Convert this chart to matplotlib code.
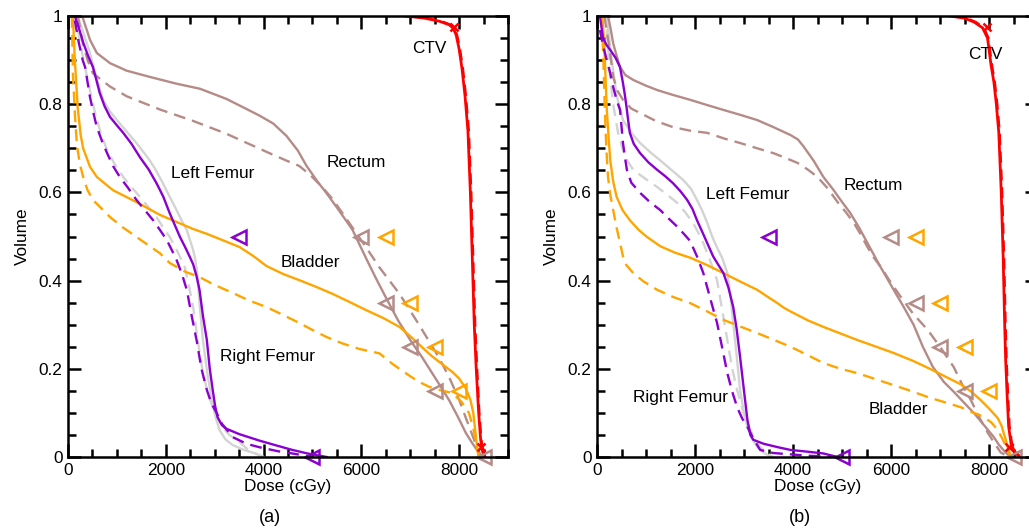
import matplotlib
matplotlib.use("Agg")
import matplotlib.pyplot as plt
from matplotlib.ticker import MultipleLocator, FuncFormatter

plt.rcParams['font.family'] = ['Liberation Sans', 'DejaVu Sans']
plt.rcParams['font.size'] = 12.4

C_CTV = '#FF0000'
C_REC = '#B58B87'
C_BLA = '#FFA500'
C_LF = '#D3D3D3'
C_RF = '#8A00D0'

# ---------------- panel (a) ----------------
a_ctv_d = [6900, 7300, 7600, 7800, 7880, 7940, 8000, 8060, 8120, 8180, 8230, 8270, 8310, 8350, 8400, 8440, 8480, 8530]
a_ctv_v = [1.0, 0.995, 0.988, 0.98, 0.972, 0.957, 0.925, 0.88, 0.82, 0.74, 0.60, 0.45, 0.30, 0.20, 0.10, 0.04, 0.012, 0.0]
a_ctvd_d = [6950, 7350, 7650, 7830, 7900, 7960, 8020, 8080, 8140, 8200, 8250, 8290, 8330, 8370, 8415, 8455, 8495, 8545]
a_ctvd_v = [1.0, 0.995, 0.988, 0.98, 0.972, 0.957, 0.925, 0.88, 0.82, 0.74, 0.60, 0.45, 0.30, 0.20, 0.10, 0.04, 0.012, 0.0]

a_rec_d = [290, 450, 590, 860, 1200, 1670, 2200, 2700, 3240, 3600, 3920, 4200, 4470, 4700, 4880, 5100, 5290, 5550,
           5820, 6100, 6300, 6510, 6750, 7020, 7250, 7450, 7650, 7800, 7980, 8140, 8260, 8340, 8420, 8500]
a_rec_v = [1.0, 0.946, 0.916, 0.893, 0.876, 0.862, 0.847, 0.835, 0.812, 0.792, 0.774, 0.756, 0.728, 0.695, 0.66, 0.625,
           0.598, 0.558, 0.515, 0.45, 0.405, 0.36, 0.31, 0.262, 0.225, 0.19, 0.155, 0.128, 0.09, 0.054, 0.033, 0.02, 0.008, 0.0]
a_recd_d = [200, 300, 400, 510, 860, 1200, 1880, 2560, 3240, 3700, 4100, 4470, 4730, 4950, 5200, 5410, 5620, 5820,
            6100, 6370, 6780, 7180, 7590, 7800, 8000, 8150, 8270, 8370, 8450]
a_recd_v = [1.0, 0.94, 0.90, 0.87, 0.84, 0.818, 0.788, 0.762, 0.733, 0.71, 0.69, 0.672, 0.66, 0.64, 0.612, 0.585, 0.552,
            0.52, 0.475, 0.43, 0.37, 0.30, 0.225, 0.18, 0.13, 0.085, 0.05, 0.02, 0.0]

a_bla_d = [100, 140, 200, 260, 310, 450, 590, 920, 1400, 1880, 2220, 2560, 2840, 3200, 3510, 3800, 4060, 4400, 4730,
           5050, 5410, 5750, 6100, 6450, 6780, 7040, 7250, 7450, 7660, 7860, 8000, 8140, 8230, 8290, 8330, 8360, 8400]
a_bla_v = [1.0, 0.90, 0.79, 0.73, 0.70, 0.658, 0.635, 0.605, 0.578, 0.549, 0.533, 0.517, 0.506, 0.49, 0.476, 0.455,
           0.433, 0.415, 0.401, 0.387, 0.37, 0.352, 0.333, 0.315, 0.295, 0.27, 0.248, 0.228, 0.21, 0.193, 0.178, 0.155,
           0.13, 0.10, 0.06, 0.03, 0.0]
a_blad_d = [80, 100, 140, 180, 240, 310, 400, 510, 860, 1130, 1400, 1880, 2080, 2400, 2690, 3000, 3370, 3700, 4060,
            4400, 4730, 5000, 5290, 5600, 5960, 6370, 6650, 6910, 7150, 7390, 7600, 7860, 8050, 8200, 8280, 8340, 8400]
a_blad_v = [1.0, 0.87, 0.78, 0.71, 0.665, 0.635, 0.605, 0.583, 0.544, 0.52, 0.499, 0.462, 0.44, 0.42, 0.408, 0.39,
            0.372, 0.355, 0.34, 0.322, 0.304, 0.288, 0.272, 0.258, 0.245, 0.235, 0.21, 0.19, 0.172, 0.159, 0.152,
            0.145, 0.125, 0.10, 0.07, 0.039, 0.0]

a_rf_d = [140, 230, 310, 410, 510, 580, 650, 750, 860, 1000, 1130, 1300, 1470, 1650, 1810, 1950, 2080, 2200, 2290,
          2400, 2490, 2560, 2630, 2690, 2760, 2840, 2900, 2960, 3010, 3060, 3150, 3240, 3500, 3920, 4300, 4590, 4900, 5290]
a_rf_v = [1.0, 0.97, 0.94, 0.91, 0.884, 0.855, 0.825, 0.795, 0.771, 0.752, 0.735, 0.71, 0.68, 0.652, 0.621, 0.59,
          0.553, 0.522, 0.499, 0.475, 0.454, 0.437, 0.41, 0.379, 0.32, 0.265, 0.20, 0.152, 0.115, 0.09, 0.072, 0.064,
          0.052, 0.037, 0.025, 0.016, 0.008, 0.0]
a_rfd_d = [140, 220, 300, 350, 450, 520, 590, 700, 800, 920, 1060, 1230, 1400, 1570, 1740, 1880, 2020, 2120, 2220,
           2330, 2430, 2530, 2630, 2730, 2840, 2940, 3040, 3150, 3370, 3650, 3920, 4300, 4590, 5000]
a_rfd_v = [0.99, 0.94, 0.90, 0.884, 0.816, 0.78, 0.748, 0.715, 0.689, 0.66, 0.635, 0.61, 0.583, 0.56, 0.537, 0.515,
           0.492, 0.47, 0.447, 0.415, 0.379, 0.32, 0.265, 0.20, 0.152, 0.12, 0.10, 0.075, 0.045, 0.03, 0.022, 0.013,
           0.008, 0.0]

a_lf_d = [200, 320, 450, 580, 720, 850, 1000, 1200, 1400, 1670, 1800, 1940, 2080, 2220, 2330, 2430, 2500, 2560, 2600,
          2640, 2690, 2760, 2850, 2940, 3020, 3100, 3220, 3370, 3600, 3780, 4000]
a_lf_v = [1.0, 0.96, 0.916, 0.86, 0.81, 0.785, 0.764, 0.738, 0.712, 0.673, 0.65, 0.621, 0.59, 0.56, 0.535, 0.515,
          0.49, 0.469, 0.45, 0.42, 0.35, 0.265, 0.19, 0.129, 0.09, 0.061, 0.04, 0.027, 0.016, 0.01, 0.0]
a_lfd_d = [200, 300, 390, 490, 590, 700, 800, 950, 1130, 1300, 1470, 1640, 1810, 1950, 2080, 2190, 2290, 2390, 2470,
           2560, 2660, 2760, 2860, 2960, 3060, 3160, 3300, 3450, 3700, 4000]
a_lfd_v = [0.97, 0.91, 0.862, 0.81, 0.764, 0.725, 0.696, 0.665, 0.635, 0.612, 0.59, 0.567, 0.544, 0.52, 0.499, 0.477,
           0.454, 0.43, 0.39, 0.34, 0.26, 0.19, 0.145, 0.113, 0.088, 0.068, 0.05, 0.039, 0.015, 0.0]

# ---------------- panel (b) ----------------
b_ctv_d = [7200, 7500, 7700, 7870, 7970, 8040, 8100, 8150, 8200, 8250, 8290, 8320, 8340, 8370, 8400, 8450, 8510, 8610]
b_ctv_v = [1.0, 0.995, 0.986, 0.973, 0.95, 0.89, 0.85, 0.80, 0.735, 0.60, 0.45, 0.30, 0.22, 0.14, 0.07, 0.03, 0.015, 0.0]
b_ctvd_d = [7250, 7550, 7740, 7900, 7990, 8060, 8120, 8170, 8220, 8270, 8310, 8340, 8360, 8390, 8420, 8470, 8540, 8640]
b_ctvd_v = [1.0, 0.995, 0.986, 0.973, 0.95, 0.89, 0.85, 0.80, 0.735, 0.60, 0.45, 0.30, 0.22, 0.14, 0.07, 0.03, 0.015, 0.0]

b_rec_d = [225, 280, 330, 400, 470, 580, 740, 1000, 1230, 1550, 1900, 2250, 2580, 2920, 3270, 3600, 3950, 4100, 4210,
           4420, 4620, 4830, 4970, 5170, 5350, 5520, 5750, 6050, 6250, 6460, 6650, 6850, 7080, 7280, 7500, 7690, 7900,
           8100, 8200, 8300, 8380, 8450]
b_rec_v = [1.0, 0.97, 0.938, 0.91, 0.884, 0.866, 0.855, 0.842, 0.832, 0.821, 0.81, 0.798, 0.787, 0.776, 0.764, 0.748,
           0.73, 0.72, 0.705, 0.672, 0.635, 0.605, 0.583, 0.553, 0.52, 0.485, 0.438, 0.38, 0.342, 0.30, 0.25, 0.205,
           0.17, 0.148, 0.122, 0.10, 0.072, 0.045, 0.028, 0.015, 0.006, 0.0]
b_recd_d = [150, 250, 330, 420, 530, 700, 880, 1200, 1550, 1900, 2250, 2600, 2920, 3270, 3600, 3850, 4090, 4300, 4500,
            4700, 4910, 5080, 5240, 5380, 5520, 5650, 5790, 6000, 6200, 6450, 6750, 7000, 7280, 7450, 7630, 7800, 7980,
            8120, 8240, 8420]
b_recd_v = [1.0, 0.93, 0.862, 0.83, 0.81, 0.79, 0.78, 0.762, 0.748, 0.74, 0.735, 0.722, 0.712, 0.70, 0.689, 0.678,
            0.667, 0.652, 0.635, 0.61, 0.578, 0.555, 0.531, 0.505, 0.476, 0.452, 0.431, 0.395, 0.363, 0.325, 0.288,
            0.25, 0.204, 0.165, 0.129, 0.09, 0.054, 0.03, 0.01, 0.0]

b_bla_d = [110, 150, 200, 240, 270, 330, 400, 520, 670, 850, 1020, 1290, 1600, 1900, 2250, 2580, 2920, 3270, 3500,
           3680, 3820, 3950, 4300, 4620, 4970, 5320, 5700, 6050, 6450, 6850, 7150, 7420, 7640, 7830, 8000, 8180, 8260,
           8300, 8340, 8380, 8420, 8450]
b_bla_v = [1.0, 0.93, 0.787, 0.72, 0.673, 0.625, 0.59, 0.56, 0.537, 0.515, 0.499, 0.478, 0.463, 0.452, 0.435, 0.417,
           0.398, 0.379, 0.362, 0.349, 0.338, 0.33, 0.31, 0.295, 0.28, 0.265, 0.25, 0.236, 0.218, 0.197, 0.18, 0.165,
           0.148, 0.129, 0.11, 0.088, 0.07, 0.054, 0.04, 0.023, 0.01, 0.0]
b_blad_d = [100, 130, 160, 190, 225, 270, 330, 400, 470, 530, 600, 740, 950, 1230, 1550, 1900, 2250, 2580, 2920,
            3270, 3600, 3950, 4300, 4620, 4970, 5320, 5700, 6050, 6400, 6750, 7100, 7420, 7650, 7890, 8050, 8180,
            8280, 8340, 8380, 8440]
b_blad_v = [0.99, 0.90, 0.787, 0.70, 0.635, 0.595, 0.56, 0.52, 0.485, 0.455, 0.435, 0.417, 0.398, 0.379, 0.363,
            0.349, 0.33, 0.311, 0.296, 0.281, 0.266, 0.25, 0.231, 0.213, 0.20, 0.19, 0.176, 0.163, 0.15, 0.136, 0.124,
            0.113, 0.102, 0.091, 0.078, 0.061, 0.04, 0.025, 0.016, 0.0]

b_rf_d = [60, 120, 190, 270, 380, 470, 500, 530, 570, 610, 640, 670, 750, 880, 1050, 1230, 1400, 1550, 1700, 1840,
          1950, 2040, 2150, 2250, 2370, 2480, 2580, 2680, 2780, 2850, 2920, 3000, 3070, 3130, 3190, 3400, 3700, 3950,
          4300, 4620, 4910]
b_rf_v = [1.0, 0.952, 0.935, 0.923, 0.905, 0.884, 0.866, 0.848, 0.82, 0.787, 0.76, 0.735, 0.71, 0.689, 0.668, 0.651,
          0.636, 0.621, 0.603, 0.583, 0.562, 0.537, 0.51, 0.485, 0.455, 0.435, 0.417, 0.385, 0.34, 0.29, 0.227, 0.15,
          0.084, 0.05, 0.039, 0.03, 0.022, 0.016, 0.012, 0.008, 0.0]
b_rfd_d = [60, 130, 200, 270, 330, 400, 470, 500, 530, 570, 610, 700, 880, 1080, 1290, 1460, 1640, 1780, 1900, 2040,
           2170, 2310, 2450, 2560, 2660, 2760, 2860, 2960, 3070, 3200, 3330, 3600, 4300, 4900]
b_rfd_v = [0.968, 0.93, 0.90, 0.87, 0.839, 0.81, 0.787, 0.75, 0.712, 0.68, 0.651, 0.622, 0.599, 0.578, 0.56, 0.541,
           0.522, 0.505, 0.49, 0.455, 0.417, 0.36, 0.304, 0.245, 0.19, 0.148, 0.113, 0.088, 0.068, 0.04, 0.016, 0.009,
           0.003, 0.0]

b_lf_d = [200, 300, 400, 530, 700, 880, 1100, 1350, 1550, 1760, 1920, 2040, 2150, 2250, 2350, 2450, 2560, 2660, 2720,
          2780, 2850, 2920, 3000, 3070, 3170, 3270, 3400, 3550]
b_lf_v = [1.0, 0.90, 0.82, 0.764, 0.735, 0.712, 0.69, 0.667, 0.648, 0.628, 0.608, 0.583, 0.558, 0.531, 0.50, 0.475,
          0.45, 0.417, 0.37, 0.304, 0.23, 0.152, 0.10, 0.068, 0.04, 0.023, 0.01, 0.0]
b_lfd_d = [200, 270, 330, 430, 530, 630, 740, 1000, 1230, 1440, 1640, 1800, 1960, 2070, 2170, 2310, 2450, 2560, 2660,
           2760, 2860, 2990, 3130, 3230, 3330, 3450, 3600]
b_lfd_v = [0.97, 0.86, 0.80, 0.735, 0.696, 0.67, 0.651, 0.63, 0.612, 0.594, 0.576, 0.555, 0.531, 0.508, 0.485, 0.445,
           0.401, 0.33, 0.265, 0.20, 0.152, 0.10, 0.061, 0.04, 0.023, 0.01, 0.0]

# constraint markers (same in both panels)
rf_con_d = [3500, 5000]
rf_con_v = [0.5, 0.0]
rec_con_d = [6000, 6500, 7000, 7500, 8500]
rec_con_v = [0.5, 0.35, 0.25, 0.15, 0.0]
bla_con_d = [6500, 7000, 7500, 8000]
bla_con_v = [0.5, 0.35, 0.25, 0.15]
a_ctv_con_d = [7900, 8450]
a_ctv_con_v = [0.975, 0.023]
b_ctv_con_d = [7950, 8400]
b_ctv_con_v = [0.975, 0.023]

a_labels = [("CTV", 7390, 0.927), ("Rectum", 5900, 0.667), ("Left Femur", 2960, 0.642),
            ("Bladder", 4960, 0.442), ("Right Femur", 4080, 0.227)]
b_labels = [("CTV", 7930, 0.912), ("Rectum", 5640, 0.615), ("Left Femur", 3070, 0.596),
            ("Right Femur", 1700, 0.136), ("Bladder", 6160, 0.107)]

fig = plt.figure(figsize=(10.29, 5.28), dpi=100)
ax_a = fig.add_axes([68/1029, 71/528, 440/1029, 441/528])
ax_b = fig.add_axes([597/1029, 71/528, 441/1029, 441/528])

DASH = (0, (5, 3))
LW = 1.7


def draw(ax, d, tag, labels, ctv_con):
    kw = dict(lw=LW, solid_joinstyle='round', dash_joinstyle='round')
    ax.plot(d['lf_d'], d['lf_v'], color=C_LF, **kw)
    ax.plot(d['lfd_d'], d['lfd_v'], color=C_LF, ls=DASH, **kw)
    ax.plot(d['rec_d'], d['rec_v'], color=C_REC, **kw)
    ax.plot(d['recd_d'], d['recd_v'], color=C_REC, ls=DASH, **kw)
    ax.plot(d['bla_d'], d['bla_v'], color=C_BLA, **kw)
    ax.plot(d['blad_d'], d['blad_v'], color=C_BLA, ls=DASH, **kw)
    ax.plot(d['rf_d'], d['rf_v'], color=C_RF, **kw)
    ax.plot(d['rfd_d'], d['rfd_v'], color=C_RF, ls=DASH, **kw)
    ax.plot(d['ctv_d'], d['ctv_v'], color=C_CTV, lw=2.0)
    ax.plot(d['ctvd_d'], d['ctvd_v'], color=C_CTV, lw=1.6, ls=DASH)

    mk = dict(marker='<', ms=10, mfc='none', mew=1.8, ls='none', clip_on=False)
    ax.plot(rf_con_d, rf_con_v, color=C_RF, **mk)
    ax.plot(rec_con_d, rec_con_v, color=C_REC, **mk)
    ax.plot(bla_con_d, bla_con_v, color=C_BLA, **mk)
    ax.plot(ctv_con[0], ctv_con[1], color=C_CTV, marker='x', ms=6, mew=1.8, ls='none', clip_on=False)

    for t, x, y in labels:
        ax.text(x, y, t, ha='center', va='center', fontsize=12.4)

    ax.set_xlim(0, 9000)
    ax.set_ylim(0, 1)
    ax.xaxis.set_major_locator(MultipleLocator(2000))
    ax.xaxis.set_minor_locator(MultipleLocator(500))
    ax.yaxis.set_major_locator(MultipleLocator(0.2))
    ax.yaxis.set_minor_locator(MultipleLocator(0.05))
    ax.yaxis.set_major_formatter(FuncFormatter(lambda v, p: '%g' % round(v, 2)))
    ax.tick_params(which='both', direction='in', top=True, right=True, width=1.8, labelsize=12.4)
    ax.tick_params(which='major', length=9.5, pad=4)
    ax.tick_params(which='minor', length=5.5)
    for s in ax.spines.values():
        s.set_linewidth(1.8)
    ax.set_xlabel('Dose (cGy)', fontsize=12.4, labelpad=1)
    ax.set_ylabel('Volume', fontsize=12.4, labelpad=6)
    ax.text(0.46, -0.137, tag, transform=ax.transAxes, ha='center', va='center', fontsize=13)


da = dict(ctv_d=a_ctv_d, ctv_v=a_ctv_v, ctvd_d=a_ctvd_d, ctvd_v=a_ctvd_v,
          rec_d=a_rec_d, rec_v=a_rec_v, recd_d=a_recd_d, recd_v=a_recd_v,
          bla_d=a_bla_d, bla_v=a_bla_v, blad_d=a_blad_d, blad_v=a_blad_v,
          rf_d=a_rf_d, rf_v=a_rf_v, rfd_d=a_rfd_d, rfd_v=a_rfd_v,
          lf_d=a_lf_d, lf_v=a_lf_v, lfd_d=a_lfd_d, lfd_v=a_lfd_v)
db = dict(ctv_d=b_ctv_d, ctv_v=b_ctv_v, ctvd_d=b_ctvd_d, ctvd_v=b_ctvd_v,
          rec_d=b_rec_d, rec_v=b_rec_v, recd_d=b_recd_d, recd_v=b_recd_v,
          bla_d=b_bla_d, bla_v=b_bla_v, blad_d=b_blad_d, blad_v=b_blad_v,
          rf_d=b_rf_d, rf_v=b_rf_v, rfd_d=b_rfd_d, rfd_v=b_rfd_v,
          lf_d=b_lf_d, lf_v=b_lf_v, lfd_d=b_lfd_d, lfd_v=b_lfd_v)

draw(ax_a, da, '(a)', a_labels, (a_ctv_con_d, a_ctv_con_v))
draw(ax_b, db, '(b)', b_labels, (b_ctv_con_d, b_ctv_con_v))

fig.savefig('out.png', dpi=100)
